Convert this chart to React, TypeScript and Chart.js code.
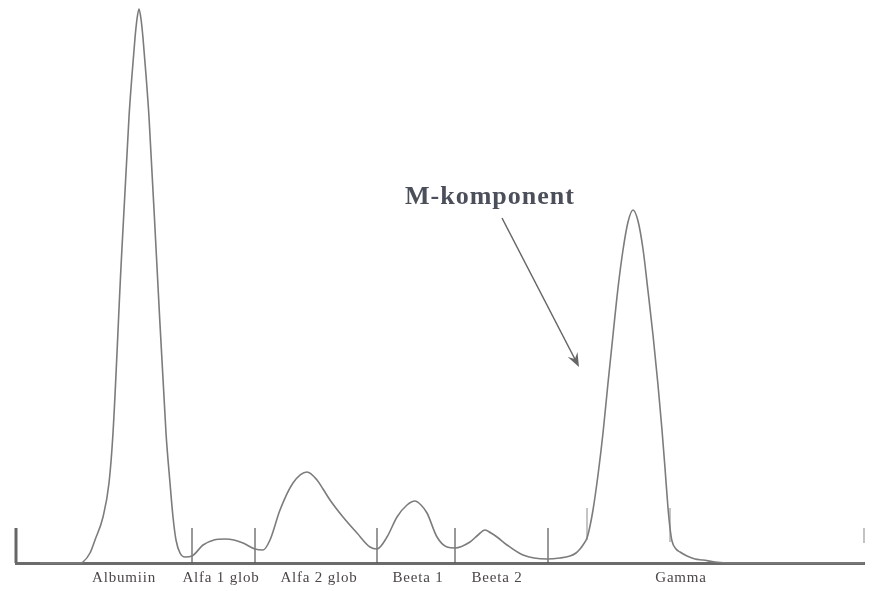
import React, { useEffect, useRef } from "react";
import { Chart, registerables } from "chart.js";

Chart.register(...registerables);

// Electrophoresis curve (x = migration position, y = relative intensity)
const curveX = [
  40, 80, 83, 90, 95, 103, 109, 113, 121, 129, 132, 135, 137, 139, 141, 143, 146, 149, 157,
  166, 170, 173, 176, 180, 185, 192, 203, 214, 225, 234, 243, 255, 263, 270, 280, 293, 307, 317,
  323, 330, 343, 357, 370, 377, 387, 397, 407, 415, 421, 427, 437, 447, 455, 470, 478, 485, 491, 497,
  507, 523, 547, 560, 570, 576, 580, 583, 587, 590, 593, 598, 603, 608, 613, 618, 623, 628, 633,
  638, 643, 648, 653, 658, 662, 665, 668, 670, 672, 676, 680, 687, 695, 703, 715, 730, 864,
];
const curveY = [
  0, 0, 1, 10, 23, 46, 80, 130, 296, 446, 488, 525, 544, 554, 544, 525, 488, 446, 296,
  130, 80, 46, 23, 10, 6, 7, 18, 23, 24, 23, 20, 14, 13, 23, 53, 80, 91, 83,
  74, 63, 46, 30, 16, 14, 26, 46, 58, 62, 58, 50, 26, 16, 15, 21, 28, 33, 30, 26,
  18, 8, 4, 5, 7, 10, 14, 18, 25, 37, 53, 88, 130, 180, 228, 275, 313, 341, 353,
  342, 314, 272, 228, 178, 133, 95, 55, 35, 22, 14, 11, 7, 4, 3, 1, 0, 0,
];

// Axis labels (fraction names) and their centre positions
const labelNames = ["Albumiin", "Alfa 1 glob", "Alfa 2 glob", "Beeta 1", "Beeta 2", "Gamma"];
const labelPos = [124, 221, 319, 418, 497, 681];

// Divider marks between fractions
const dividerX = [192, 255, 377, 455, 548];
const dividerLow = [0, 0, 0, 0, 0];
const dividerHigh = [35, 35, 35, 35, 35];

// Small marks around the gamma peak
const gammaMarkX = [587, 670];
const gammaMarkLow = [23, 21];
const gammaMarkHigh = [55, 55];

// Edge marks (left bar, right small tick)
const edgeX = [16, 864];
const edgeLow = [0, 20];
const edgeHigh = [35, 35];

// Annotation
const annotationText = "M-komponent";
const annotationPos = [490, 359];
const arrowFrom = [502, 345];
const arrowTo = [579, 196];

const X_MIN = 16;
const X_MAX = 864;
const Y_MAX = 563;

const SERIF = "'Liberation Serif', 'Times New Roman', serif";

const annotationPlugin = {
  id: "mAnnotation",
  beforeDraw(chart: any) {
    chart.ctx.letterSpacing = "0.8px";
  },
  afterDatasetsDraw(chart: any) {
    const { ctx, scales } = chart;
    const sx = scales.x;
    const sy = scales.y;
    ctx.save();
    // arrow
    const x1 = sx.getPixelForValue(arrowFrom[0]);
    const y1 = sy.getPixelForValue(arrowFrom[1]);
    const x2 = sx.getPixelForValue(arrowTo[0]);
    const y2 = sy.getPixelForValue(arrowTo[1]);
    const ang = Math.atan2(y2 - y1, x2 - x1);
    const headLen = 14;
    const notch = 9;
    const half = 5.5;
    ctx.strokeStyle = "#666666";
    ctx.fillStyle = "#666666";
    ctx.lineWidth = 1.5;
    ctx.beginPath();
    ctx.moveTo(x1, y1);
    ctx.lineTo(x2 - Math.cos(ang) * notch, y2 - Math.sin(ang) * notch);
    ctx.stroke();
    const bx = x2 - Math.cos(ang) * headLen;
    const by = y2 - Math.sin(ang) * headLen;
    const px = -Math.sin(ang);
    const py = Math.cos(ang);
    ctx.beginPath();
    ctx.moveTo(x2, y2);
    ctx.lineTo(bx + px * half, by + py * half);
    ctx.lineTo(x2 - Math.cos(ang) * notch, y2 - Math.sin(ang) * notch);
    ctx.lineTo(bx - px * half, by - py * half);
    ctx.closePath();
    ctx.fill();
    // text
    ctx.letterSpacing = "1px";
    ctx.font = `bold 26px ${SERIF}`;
    ctx.fillStyle = "#4b4f5a";
    ctx.textAlign = "center";
    ctx.textBaseline = "alphabetic";
    ctx.fillText(
      annotationText,
      sx.getPixelForValue(annotationPos[0]),
      sy.getPixelForValue(annotationPos[1])
    );
    ctx.restore();
  },
};

function segmentDatasets(xs: number[], lows: number[], highs: number[], color: string, width: number) {
  return xs.map((x, i) => ({
    type: "line" as const,
    data: [
      { x, y: lows[i] },
      { x, y: highs[i] },
    ],
    borderColor: color,
    borderWidth: width,
    pointRadius: 0,
    clip: false as any,
    tension: 0,
  }));
}

export default function App() {
  const canvasRef = useRef<HTMLCanvasElement | null>(null);

  useEffect(() => {
    const canvas = canvasRef.current;
    if (!canvas) return;
    const curve = curveX.map((x, i) => ({ x, y: curveY[i] }));
    const datasets: any[] = [
      {
        type: "line",
        data: curve,
        borderColor: "#7c7c7c",
        borderWidth: 1.6,
        pointRadius: 0,
        cubicInterpolationMode: "monotone",
        clip: false,
      },
      ...segmentDatasets(dividerX, dividerLow, dividerHigh, "#555555", 1.2),
      ...segmentDatasets(gammaMarkX, gammaMarkLow, gammaMarkHigh, "#8a8a8a", 1),
      {
        ...segmentDatasets([edgeX[0]], [edgeLow[0]], [edgeHigh[0]], "#666666", 3)[0],
      },
      {
        ...segmentDatasets([edgeX[1]], [edgeLow[1]], [edgeHigh[1]], "#9a9a9a", 1.2)[0],
      },
    ];

    const chart = new Chart(canvas, {
      type: "line",
      data: { datasets },
      options: {
        animation: false,
        responsive: true,
        maintainAspectRatio: false,
        events: [],
        layout: { padding: { left: 16, right: 8, top: 0, bottom: -2 } },
        plugins: {
          legend: { display: false },
          tooltip: { enabled: false },
          title: { display: false },
        },
        scales: {
          x: {
            type: "linear",
            min: X_MIN,
            max: X_MAX,
            grid: { display: false, drawTicks: false },
            border: { display: true, color: "#6b6b6b", width: 3 },
            afterBuildTicks: (scale: any) => {
              scale.ticks = labelPos.map((v) => ({ value: v }));
            },
            ticks: {
              autoSkip: false,
              maxRotation: 0,
              padding: 6,
              color: "#4d4646",
              font: { family: SERIF, size: 15 },
              callback: (value: any) => {
                const idx = labelPos.indexOf(Number(value));
                return idx >= 0 ? labelNames[idx] : "";
              },
            },
          },
          y: {
            type: "linear",
            display: false,
            min: 0,
            max: Y_MAX,
          },
        },
      },
      plugins: [annotationPlugin],
    });
    return () => chart.destroy();
  }, []);

  return (
    <div style={{ position: "fixed", left: 0, top: 0, width: 872, height: 591, background: "#ffffff" }}>
      <canvas ref={canvasRef} />
    </div>
  );
}
